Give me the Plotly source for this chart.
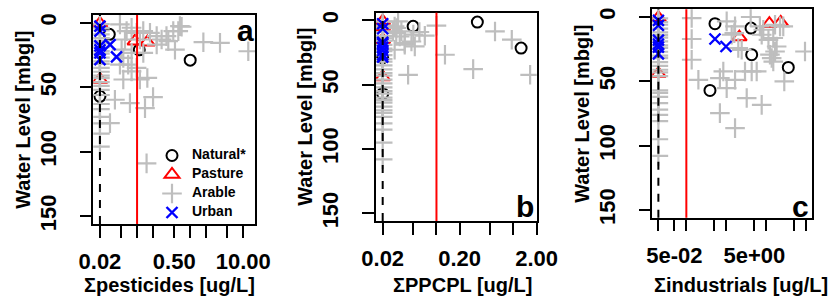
import plotly.graph_objects as go

W, H = 829, 305
FONT = "Liberation Sans, Arial, sans-serif"

# ---------------- data ----------------
# detection-limit (dashed) and threshold (red) reference values
DETECTION_LIMIT = 0.02
THRESHOLD = 0.1

# Panel a : sum of pesticides
a_nat_x = [0.02, 0.03, 0.11, 1.0]
a_nat_y = [57, 9, 21, 29]
a_pas_x = [0.02, 0.02, 0.091, 0.156]
a_pas_y = [0.5, 44, 14.3, 15.1]
a_ara_col_y = [1, 4, 6, 9, 12, 14, 16, 19, 22, 24, 27, 30, 32, 35, 38, 41, 43, 46, 49, 52, 56, 63, 67, 73, 78, 86, 96]
a_ara_x = [0.0476, 0.0636, 0.0789, 0.0592, 0.0982, 0.1307, 0.175, 0.234, 0.29, 0.387, 0.517, 0.597, 0.69,
           1.77, 3.64, 12.4, 0.0512, 0.055, 0.068, 0.0789, 0.055, 0.113, 0.156, 0.098, 0.0383, 0.0734,
           0.141, 0.2, 0.0309, 0.151, 0.131, 0.079, 0.234, 0.113, 0.358, 0.48, 0.0476, 0.64]
a_ara_y = [1.3, 6.5, 3.9, 13, 7.8, 6.5, 7.8, 10.4, 13, 14.3, 20.8, 6.5, 3.1,
           15.1, 15.6, 22.1, 20.8, 27.3, 32.5, 37.7, 44, 44, 42.8, 35, 59.7, 62.3,
           66.2, 57.6, 77.8, 109, 23.4, 23.4, 16.9, 13, 10.4, 6.5, 32.5, 2.6]
a_urb_x = [0.02, 0.02, 0.02, 0.02, 0.02, 0.02, 0.031, 0.041]
a_urb_y = [2.6, 6.5, 18, 21, 23.4, 28.6, 16.9, 26.5]

# Panel b : sum of PPCPL
b_nat_x = [0.02, 0.02, 0.0497, 0.34, 1.26]
b_nat_y = [57, 29, 4.6, 1.3, 21.5]
b_pas_x = [0.02, 0.02, 0.02, 0.02]
b_pas_y = [0.5, 44, 5, 15]
b_ara_col_y = [1, 4, 6, 9, 12, 14, 16, 19, 22, 24, 27, 30, 32, 35, 38, 41, 43, 46, 49, 52, 55, 57, 60,
               62, 64, 67, 70, 72, 75, 80, 85, 95, 108]
b_ara_x = [0.0317, 0.0302, 0.0272, 0.035, 0.0333, 0.0286, 0.0387, 0.0473, 0.0523, 0.0706, 0.1, 0.129,
           0.0428, 0.3, 0.577, 0.953, 1.65, 0.0286, 0.03, 0.0387, 0.05, 0.06]
b_ara_y = [0.8, 5.9, 8.6, 8.6, 12.5, 22.8, 17.6, 16.4, 20.2, 11.9, 4.1, 26.7,
           42.3, 37.9, 8.6, 15, 42.3, 4.7, 9.8, 18.9, 11, 9]
b_urb_x = [0.02, 0.02, 0.02, 0.02, 0.02, 0.02, 0.02, 0.02]
b_urb_y = [2.6, 6.5, 17, 18, 21, 23.4, 26.5, 28.6]

# Panel c : sum of industrials
c_nat_x = [0.52, 4.14, 4.3, 35.4, 0.39]
c_nat_y = [5.2, 8.6, 29.3, 39.2, 57.1]
c_pas_x = [0.02, 0.02, 11.9, 22.9, 2.11]
c_pas_y = [0.5, 44, 5.2, 4.2, 15.6]
c_ara_col_y = [1, 4, 6, 9, 12, 14, 16, 19, 22, 24, 27, 30, 32, 35, 38, 41, 43, 46, 57, 59, 62, 67, 72,
               76, 81, 95, 108]
c_ara_x = [0.136, 0.136, 0.136, 0.2, 0.69, 0.84, 1.02, 1.65, 0.69, 1.65, 3.23, 7.65, 2.93, 4.3, 5.74,
           28.1, 92.6, 1.02, 4.06, 1.58, 1.99, 2.42, 8.4, 14.9, 18.1, 13.6, 14.9, 12.3, 26.5, 6.9, 1.65,
           1.36, 16.5, 16.5, 22, 7.65, 11.3]
c_ara_y = [0.8, 17.1, 33.2, 48.8, 47.5, 42.3, 55.3, 48.8, 74.7, 86.4, 63, 68.3, 42.3, 42.3, 42.3,
           50.1, 26.8, 3.4, 0, 12.5, 24.1, 25.5, 9.9, 16.3, 22.9, 31.9, 34.6, 29.3, 7.3, 7.3, 7.3,
           13.8, 26.8, 6, 7.3, 13.8, 17.7]
c_urb_x = [0.02, 0.02, 0.02, 0.02, 0.02, 0.02, 0.52, 0.98]
c_urb_y = [2.6, 6.5, 18, 21, 23.4, 28.6, 17.1, 22.9]

# axis ticks / labels
a_tickvals = [0.02, 0.05, 0.1, 0.2, 0.5, 1, 2, 5, 10]
a_ticktext = ["0.02", "", "", "", "0.50", "", "", "", "10.00"]
b_tickvals = [0.02, 0.05, 0.1, 0.2, 0.5, 1, 2]
b_ticktext = ["0.02", "", "", "0.20", "", "", "2.00"]
c_tickvals = [0.02, 0.05, 0.1, 0.5, 1, 5, 10, 50, 100]
c_ticktext = ["", "5e-02", "", "", "", "5e+00", "", "", ""]
y_tickvals = [0, 50, 100, 150]
x_titles = ["\u03a3pesticides [ug/L]", "\u03a3PPCPL [ug/L]", "\u03a3industrials [ug/L]"]
panel_letters = ["a", "b", "c"]
legend_names = ["Natural*", "Pasture", "Arable", "Urban"]

# ---------------- layout geometry (pixels) ----------------
boxes = [  # left, right, top, bottom
    (93.3, 255.0, 15.0, 224.0),
    (376.0, 536.7, 12.7, 221.0),
    (652.3, 811.7, 9.3, 217.7),
]
xranges = [[-1.824, 1.220], [-1.786, 0.303], [-1.851, 2.134]]
YRANGE = [156, -6]

panels = [
    dict(nat=(a_nat_x, a_nat_y), pas=(a_pas_x, a_pas_y), col=a_ara_col_y, ara=(a_ara_x, a_ara_y),
         urb=(a_urb_x, a_urb_y), tv=a_tickvals, tt=a_ticktext),
    dict(nat=(b_nat_x, b_nat_y), pas=(b_pas_x, b_pas_y), col=b_ara_col_y, ara=(b_ara_x, b_ara_y),
         urb=(b_urb_x, b_urb_y), tv=b_tickvals, tt=b_ticktext),
    dict(nat=(c_nat_x, c_nat_y), pas=(c_pas_x, c_pas_y), col=c_ara_col_y, ara=(c_ara_x, c_ara_y),
         urb=(c_urb_x, c_urb_y), tv=c_tickvals, tt=c_ticktext),
]

GREY = "#bebebe"
styles = [
    dict(symbol="circle-open", size=11, color="black", lw=2),
    dict(symbol="triangle-up-open", size=13, color="red", lw=2),
    dict(symbol="cross-thin", size=14, color=GREY, lw=2.2),
    dict(symbol="x-thin", size=11, color="blue", lw=2.4),
]

fig = go.Figure()
layout = dict(
    template="none",
    width=W, height=H, margin=dict(l=0, r=0, t=0, b=0, pad=0, autoexpand=False),
    paper_bgcolor="white", plot_bgcolor="white",
    font=dict(family=FONT, color="black"),
    showlegend=True,
    legend=dict(x=152 / W, y=1 - 141 / H, xanchor="left", yanchor="top",
                font=dict(family=FONT, size=10, weight="bold", color="black"),
                bgcolor="rgba(0,0,0,0)", borderwidth=0, tracegroupgap=0, itemwidth=30),
)
shapes = []
annotations = []

for i, p in enumerate(panels):
    sfx = "" if i == 0 else str(i + 1)
    xa, ya = "x" + sfx, "y" + sfx
    l, r, t, b = boxes[i]
    ara_x = [DETECTION_LIMIT] * len(p["col"]) + list(p["ara"][0])
    ara_y = list(p["col"]) + list(p["ara"][1])
    sets = [p["nat"], p["pas"], (ara_x, ara_y), p["urb"]]
    for k, (xs, ys) in enumerate(sets):
        st = styles[k]
        fig.add_trace(go.Scatter(
            x=xs, y=ys, mode="markers", xaxis=xa, yaxis=ya,
            name='<span style="font-size:14px">' + legend_names[k] + "</span>",
            legendgroup=legend_names[k], showlegend=(i == 0),
            marker=dict(symbol=st["symbol"], size=st["size"], color=st["color"],
                        line=dict(color=st["color"], width=st["lw"])),
            cliponaxis=True, hoverinfo="x+y",
        ))
    common = dict(showline=True, mirror=True, linecolor="black", linewidth=1.5,
                  ticks="outside", ticklen=12, tickwidth=1.5, tickcolor="black",
                  showgrid=False, zeroline=False, automargin=False,
                  tickfont=dict(family=FONT, size=22, weight="bold", color="black"))
    layout["xaxis" + sfx] = dict(common, type="log", range=xranges[i],
                                 domain=[l / W, r / W], anchor=ya,
                                 tickvals=p["tv"], ticktext=p["tt"], tickangle=0,
                                 ticklabelstandoff=5)
    layout["yaxis" + sfx] = dict(common, range=YRANGE, domain=[1 - b / H, 1 - t / H], anchor=xa,
                                 tickvals=y_tickvals, ticktext=[str(v) for v in y_tickvals],
                                 tickangle=-90, ticklabelstandoff=15)
    # reference lines
    shapes.append(dict(type="line", xref=xa, yref=ya + " domain", x0=THRESHOLD, x1=THRESHOLD,
                       y0=0, y1=1, line=dict(color="red", width=2), layer="above"))
    shapes.append(dict(type="line", xref=xa, yref=ya + " domain", x0=DETECTION_LIMIT, x1=DETECTION_LIMIT,
                       y0=0, y1=1, line=dict(color="black", width=2, dash="8px,8px"), layer="above"))
    # titles
    annotations.append(dict(text="Water Level [mbgl]", textangle=-90, xref="paper", yref="paper",
                            x=(l - 71) / W, y=1 - (t + b) / 2 / H, showarrow=False,
                            xanchor="center", yanchor="middle",
                            font=dict(family=FONT, size=20, weight="bold", color="black")))
    xt_center = [169, 463, 741][i]
    annotations.append(dict(text=x_titles[i], xref="paper", yref="paper",
                            x=xt_center / W, y=1 - 285 / H, showarrow=False,
                            xanchor="center", yanchor="middle",
                            font=dict(family=FONT, size=20, weight="bold", color="black")))
    lab_pos = [(245, 31), (525, 206), (800, 206)][i]
    annotations.append(dict(text=panel_letters[i], xref="paper", yref="paper",
                            x=lab_pos[0] / W, y=1 - lab_pos[1] / H, showarrow=False,
                            xanchor="center", yanchor="middle",
                            font=dict(family=FONT, size=30, weight="bold", color="black")))

layout["shapes"] = shapes
layout["annotations"] = annotations
fig.update_layout(**layout)
fig.write_html("out.html", config={"displayModeBar": False},
               post_script="document.body.style.margin='0';document.body.style.overflow='hidden';")
